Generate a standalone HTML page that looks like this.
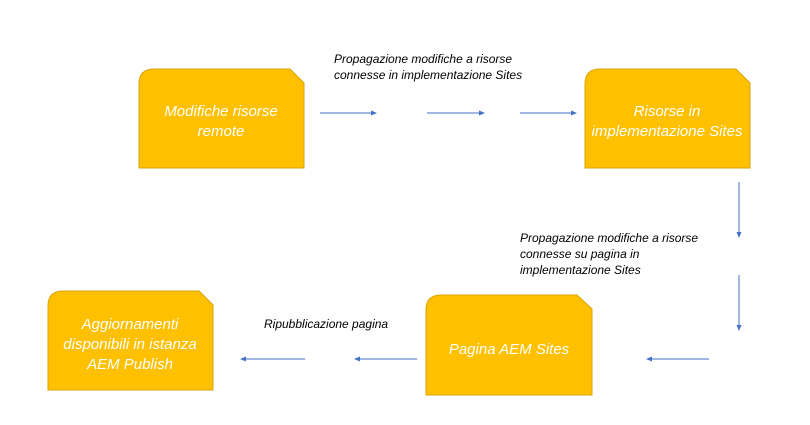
<!DOCTYPE html>
<html><head><meta charset="utf-8"><style>
body{margin:0;background:#fff}
svg text{font-family:"Liberation Sans",sans-serif}
</style></head><body>
<svg width="810" height="420" viewBox="0 0 810 420" xmlns="http://www.w3.org/2000/svg">
<defs>
<marker id="a" markerWidth="6" markerHeight="6" refX="5" refY="3" orient="auto" markerUnits="userSpaceOnUse"><path d="M0,0.5 L6,3 L0,5.5z" fill="#4472C4"/></marker>
</defs>
<g fill="#FFC000" stroke="#D9A300" stroke-width="1">
<path d="M139,168 V84 Q139,69 154,69 H290 L304,83 V168 Z"/>
<path d="M585,168 V84 Q585,69 600,69 H736 L750,83 V168 Z"/>
<path d="M426,395 V310 Q426,295 441,295 H577 L592,309 V395 Z"/>
<path d="M48,390 V306 Q48,291 63,291 H199 L213,305 V390 Z"/>
</g>
<g font-style="italic" fill="#fff" font-size="15" text-anchor="middle">
<text x="221" y="116">Modifiche risorse</text>
<text x="221" y="136">remote</text>
<text x="667" y="116">Risorse in</text>
<text x="667" y="136">implementazione Sites</text>
<text x="509" y="354">Pagina AEM Sites</text>
<text x="130" y="329">Aggiornamenti</text>
<text x="130" y="349">disponibili in istanza</text>
<text x="130" y="369">AEM Publish</text>
</g>
<g font-style="italic" fill="#000" font-size="12">
<text x="334" y="63">Propagazione modifiche a risorse</text>
<text x="334" y="79">connesse in implementazione Sites</text>
<text x="520" y="242">Propagazione modifiche a risorse</text>
<text x="520" y="258">connesse su pagina in</text>
<text x="520" y="274">implementazione Sites</text>
<text x="264" y="328">Ripubblicazione pagina</text>
</g>
<g stroke="#4472C4" stroke-width="1" marker-end="url(#a)">
<line x1="320" y1="113" x2="376" y2="113"/>
<line x1="427" y1="113" x2="484" y2="113"/>
<line x1="520" y1="113" x2="576" y2="113"/>
<line x1="739" y1="182" x2="739" y2="237"/>
<line x1="739" y1="275" x2="739" y2="330"/>
<line x1="709" y1="359" x2="647" y2="359"/>
<line x1="417" y1="359" x2="355" y2="359"/>
<line x1="305" y1="359" x2="241" y2="359"/>
</g>
</svg>
</body></html>
